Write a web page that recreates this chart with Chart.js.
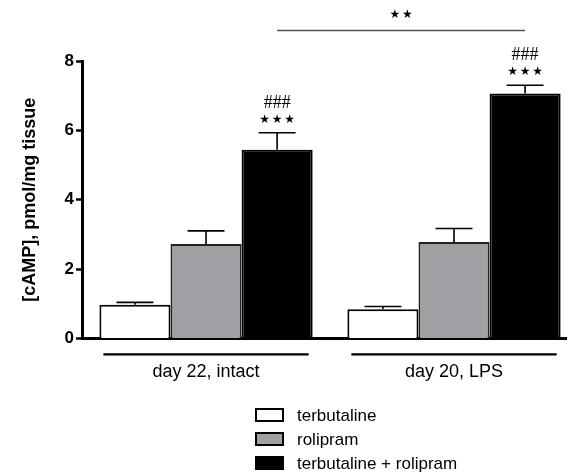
<!DOCTYPE html>
<html>
<head>
<meta charset="utf-8">
<script src="https://cdn.jsdelivr.net/npm/chart.js@4.4.1/dist/chart.umd.min.js"></script>
<style>
  html, body { margin: 0; padding: 0; background: #fff; overflow: hidden; }
  #wrap { width: 567px; height: 474px; overflow: hidden; }
</style>
</head>
<body>
<div id="wrap"><canvas id="camp" width="592" height="474"></canvas></div>
<script>
// values (mean and SEM)
const categories = ['day 22, intact', 'day 20, LPS'];
const seriesNames = ['terbutaline', 'rolipram', 'terbutaline + rolipram'];
const terbutaline = [0.97, 0.84];
const terbutalineErr = [0.07, 0.08];
const rolipram = [2.72, 2.78];
const roliprampErr = [0.38, 0.39];
const combined = [5.44, 7.06];
const combinedErr = [0.49, 0.24];
const yTicks = [0, 2, 4, 6, 8];

// significance marks
const hashMarks = ['###', '###'];
const starMarks = [3, 3];
const bracketStars = 2;
const bracketLevel = 8.88;

const fills = ['#ffffff', '#a09fa4', '#000000'];
const errs = [terbutalineErr, roliprampErr, combinedErr];
const FONT = '"Liberation Sans", Arial, sans-serif';

const errorBars = {
    id: 'errorBars',
    afterDatasetsDraw(chart) {
        const ctx = chart.ctx;
        const y = chart.scales.y;
        ctx.save();
        ctx.strokeStyle = '#000';
        ctx.lineWidth = 1.6;
        chart.data.datasets.forEach((ds, i) => {
            const meta = chart.getDatasetMeta(i);
            meta.data.forEach((bar, j) => {
                const top = y.getPixelForValue(ds.data[j] + errs[i][j]);
                const half = bar.width * 0.26;
                ctx.beginPath();
                ctx.moveTo(bar.x, bar.y);
                ctx.lineTo(bar.x, top);
                ctx.moveTo(bar.x - half, top);
                ctx.lineTo(bar.x + half, top);
                ctx.stroke();
            });
        });
        ctx.restore();
    }
};

function drawStars(ctx, n, cx, cy) {
    const gap = 12.5;
    for (let k = 0; k < n; k++) {
        ctx.fillText('★', cx + (k - (n - 1) / 2) * gap, cy);
    }
}

const annotations = {
    id: 'annotations',
    afterDraw(chart) {
        const ctx = chart.ctx;
        const y = chart.scales.y;
        const area = chart.chartArea;
        const meta = chart.getDatasetMeta(2);
        ctx.save();
        ctx.fillStyle = '#000';
        ctx.textAlign = 'center';
        ctx.textBaseline = 'middle';

        // ### and stars above combined bars
        meta.data.forEach((bar, j) => {
            const cap = y.getPixelForValue(combined[j] + combinedErr[j]);
            ctx.font = '18px "Liberation Serif", serif';
            ctx.fillText(hashMarks[j], bar.x, cap - 30);
            ctx.font = '12px "DejaVu Sans"';
            drawStars(ctx, starMarks[j], bar.x, cap - 13);
        });

        // bracket between the two combined bars
        const by = y.getPixelForValue(bracketLevel);
        const x0 = meta.data[0].x, x1 = meta.data[1].x;
        ctx.strokeStyle = '#555';
        ctx.lineWidth = 1.5;
        ctx.beginPath();
        ctx.moveTo(x0, by);
        ctx.lineTo(x1, by);
        ctx.stroke();
        ctx.font = '12px "DejaVu Sans"';
        drawStars(ctx, bracketStars, (x0 + x1) / 2, by - 16);

        // group underlines
        ctx.strokeStyle = '#000';
        ctx.lineWidth = 2.2;
        const m0 = chart.getDatasetMeta(0);
        categories.forEach((c, j) => {
            const left = m0.data[j].x - m0.data[j].width / 2 + 4;
            const right = meta.data[j].x + meta.data[j].width / 2 - 4;
            ctx.beginPath();
            ctx.moveTo(left, area.bottom + 16);
            ctx.lineTo(right, area.bottom + 16);
            ctx.stroke();
        });

        // legend
        ctx.textAlign = 'left';
        ctx.font = '17px ' + FONT;
        const rows = [415, 439, 463];
        seriesNames.forEach((name, i) => {
            const ry = rows[i];
            ctx.fillStyle = fills[i];
            ctx.fillRect(256, ry - 6, 27, 12);
            ctx.strokeStyle = '#000';
            ctx.lineWidth = 2;
            ctx.strokeRect(256, ry - 6, 27, 12);
            ctx.fillStyle = '#000';
            ctx.fillText(name, 297, ry + 1);
        });
        ctx.restore();
    }
};

const ctx = document.getElementById('camp');

new Chart(ctx, {
    type: 'bar',
    data: {
        labels: categories,
        datasets: [
            { label: seriesNames[0], data: terbutaline, backgroundColor: fills[0], borderColor: '#000', borderWidth: 2 },
            { label: seriesNames[1], data: rolipram, backgroundColor: fills[1], borderColor: '#222', borderWidth: 2 },
            { label: seriesNames[2], data: combined, backgroundColor: fills[2], borderColor: '#000', borderWidth: 2 }
        ]
    },
    options: {
        responsive: false,
        animation: false,
        devicePixelRatio: 1,
        layout: {
            padding: { left: 19, right: 14, top: 61, bottom: 68 }
        },
        datasets: {
            bar: { categoryPercentage: 0.86, barPercentage: 1.0 }
        },
        plugins: {
            legend: { display: false },
            tooltip: { enabled: false }
        },
        scales: {
            x: {
                grid: { display: false, drawTicks: false },
                border: { display: true, color: '#000', width: 3 },
                ticks: {
                    color: '#000',
                    padding: 23,
                    font: { family: FONT, size: 18 }
                }
            },
            y: {
                min: 0,
                max: 8,
                afterBuildTicks: (scale) => { scale.ticks = yTicks.map(v => ({ value: v })); },
                grid: { drawOnChartArea: false, drawTicks: true, tickLength: 6, tickWidth: 2.5, tickColor: '#000' },
                border: { display: true, color: '#000', width: 3 },
                ticks: {
                    color: '#000',
                    padding: 2,
                    font: { family: FONT, size: 17, weight: 'bold' }
                },
                title: {
                    display: true,
                    text: '[cAMP], pmol/mg tissue',
                    color: '#000',
                    padding: { top: 0, bottom: 22 },
                    font: { family: FONT, size: 18, weight: 'bold' }
                }
            }
        }
    },
    plugins: [errorBars, annotations]
});
</script>
</body>
</html>
